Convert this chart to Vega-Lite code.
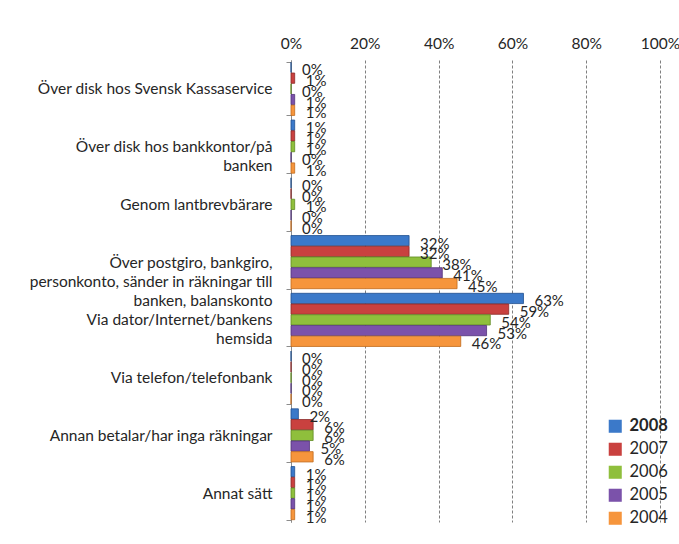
{
  "$schema": "https://vega.github.io/schema/vega-lite/v6.json",
  "width": 369,
  "height": 462,
  "autosize": "none",
  "padding": {"left": 291, "top": 60, "right": 19, "bottom": 22},
  "background": "white",
  "config": {
    "view": {"stroke": null},
    "font": "Lato",
    "axis": {"labelFont": "Lato", "labelColor": "#262626"}
  },
  "data": {
    "values": [
      {"cat": "Över disk hos Svensk Kassaservice", "year": "2008", "value": 0.00},
      {"cat": "Över disk hos Svensk Kassaservice", "year": "2007", "value": 0.01},
      {"cat": "Över disk hos Svensk Kassaservice", "year": "2006", "value": 0.00},
      {"cat": "Över disk hos Svensk Kassaservice", "year": "2005", "value": 0.01},
      {"cat": "Över disk hos Svensk Kassaservice", "year": "2004", "value": 0.01},
      {"cat": "Över disk hos bankkontor/på|banken", "year": "2008", "value": 0.01},
      {"cat": "Över disk hos bankkontor/på|banken", "year": "2007", "value": 0.01},
      {"cat": "Över disk hos bankkontor/på|banken", "year": "2006", "value": 0.01},
      {"cat": "Över disk hos bankkontor/på|banken", "year": "2005", "value": 0.00},
      {"cat": "Över disk hos bankkontor/på|banken", "year": "2004", "value": 0.01},
      {"cat": "Genom lantbrevbärare", "year": "2008", "value": 0.00},
      {"cat": "Genom lantbrevbärare", "year": "2007", "value": 0.00},
      {"cat": "Genom lantbrevbärare", "year": "2006", "value": 0.01},
      {"cat": "Genom lantbrevbärare", "year": "2005", "value": 0.00},
      {"cat": "Genom lantbrevbärare", "year": "2004", "value": 0.00},
      {"cat": "Över postgiro, bankgiro,|personkonto, sänder in räkningar till|banken, balanskonto", "year": "2008", "value": 0.32},
      {"cat": "Över postgiro, bankgiro,|personkonto, sänder in räkningar till|banken, balanskonto", "year": "2007", "value": 0.32},
      {"cat": "Över postgiro, bankgiro,|personkonto, sänder in räkningar till|banken, balanskonto", "year": "2006", "value": 0.38},
      {"cat": "Över postgiro, bankgiro,|personkonto, sänder in räkningar till|banken, balanskonto", "year": "2005", "value": 0.41},
      {"cat": "Över postgiro, bankgiro,|personkonto, sänder in räkningar till|banken, balanskonto", "year": "2004", "value": 0.45},
      {"cat": "Via dator/Internet/bankens|hemsida", "year": "2008", "value": 0.63},
      {"cat": "Via dator/Internet/bankens|hemsida", "year": "2007", "value": 0.59},
      {"cat": "Via dator/Internet/bankens|hemsida", "year": "2006", "value": 0.54},
      {"cat": "Via dator/Internet/bankens|hemsida", "year": "2005", "value": 0.53},
      {"cat": "Via dator/Internet/bankens|hemsida", "year": "2004", "value": 0.46},
      {"cat": "Via telefon/telefonbank", "year": "2008", "value": 0.00},
      {"cat": "Via telefon/telefonbank", "year": "2007", "value": 0.00},
      {"cat": "Via telefon/telefonbank", "year": "2006", "value": 0.00},
      {"cat": "Via telefon/telefonbank", "year": "2005", "value": 0.00},
      {"cat": "Via telefon/telefonbank", "year": "2004", "value": 0.00},
      {"cat": "Annan betalar/har inga räkningar", "year": "2008", "value": 0.02},
      {"cat": "Annan betalar/har inga räkningar", "year": "2007", "value": 0.06},
      {"cat": "Annan betalar/har inga räkningar", "year": "2006", "value": 0.06},
      {"cat": "Annan betalar/har inga räkningar", "year": "2005", "value": 0.05},
      {"cat": "Annan betalar/har inga räkningar", "year": "2004", "value": 0.06},
      {"cat": "Annat sätt", "year": "2008", "value": 0.01},
      {"cat": "Annat sätt", "year": "2007", "value": 0.01},
      {"cat": "Annat sätt", "year": "2006", "value": 0.01},
      {"cat": "Annat sätt", "year": "2005", "value": 0.01},
      {"cat": "Annat sätt", "year": "2004", "value": 0.01}
    ]
  },
  "encoding": {
    "y": {
      "field": "cat",
      "type": "nominal",
      "sort": null,
      "scale": {"paddingInner": 0.08, "paddingOuter": 0.04},
      "axis": {
        "title": null,
        "labelExpr": "split(datum.label, '|')",
        "labelFontSize": 15.5,
        "labelLimit": 290,
        "labelPadding": 14,
        "labelAlign": "right",
        "labelLineHeight": 19,
        "domainColor": "#8c8c8c",
        "tickColor": "#8c8c8c",
        "tickBand": "extent",
        "tickSize": 5
      }
    },
    "yOffset": {
      "field": "year",
      "type": "nominal",
      "sort": ["2008", "2007", "2006", "2005", "2004"],
      "scale": {"paddingInner": 0.04}
    },
    "x": {
      "field": "value",
      "type": "quantitative",
      "scale": {"domain": [0, 1], "nice": false},
      "axis": {
        "orient": "top",
        "title": null,
        "format": ".0%",
        "values": [0, 0.2, 0.4, 0.6, 0.8, 1],
        "labelFontSize": 15.5,
        "labelPadding": 9,
        "labelFlush": false,
        "labelOverlap": false,
        "domain": false,
        "ticks": false,
        "grid": true,
        "gridColor": "#7f7f7f",
        "gridDash": [3, 2],
        "gridWidth": 1
      }
    }
  },
  "layer": [
    {
      "mark": {"type": "bar", "strokeWidth": 0.8},
      "encoding": {
        "color": {
          "field": "year",
          "type": "nominal",
          "sort": ["2008", "2007", "2006", "2005", "2004"],
          "scale": {
            "domain": ["2008", "2007", "2006", "2005", "2004"],
            "range": ["#3b79c9", "#c9413f", "#8fbf3c", "#7b52aa", "#f6953c"]
          },
          "legend": {
            "title": null,
            "orient": "none",
            "legendX": 316,
            "legendY": 358,
            "symbolType": "square",
            "symbolSize": 170,
            "symbolStrokeWidth": 0,
            "labelFontSize": 16.5,
            "labelColor": "#262626",
            "rowPadding": 6,
            "labelOffset": 6,
            "encode": {
              "labels": {
                "update": {
                  "fontWeight": {"signal": "datum.value == '2008' ? 'bold' : 'normal'"}
                }
              }
            }
          }
        },
        "stroke": {
          "field": "year",
          "type": "nominal",
          "scale": {
            "domain": ["2008", "2007", "2006", "2005", "2004"],
            "range": ["#1f4f8f", "#8a2a28", "#5f8a22", "#52347a", "#c06a1c"]
          },
          "legend": null
        }
      }
    },
    {
      "mark": {"type": "text", "align": "left", "baseline": "middle", "dx": 11, "dy": 3, "fontSize": 15, "color": "#262626"},
      "encoding": {
        "text": {"field": "value", "type": "quantitative", "format": ".0%"},
        "fontWeight": {
          "condition": {"test": "datum.year == '2008'", "value": "bold"},
          "value": "normal"
        }
      }
    }
  ]
}
